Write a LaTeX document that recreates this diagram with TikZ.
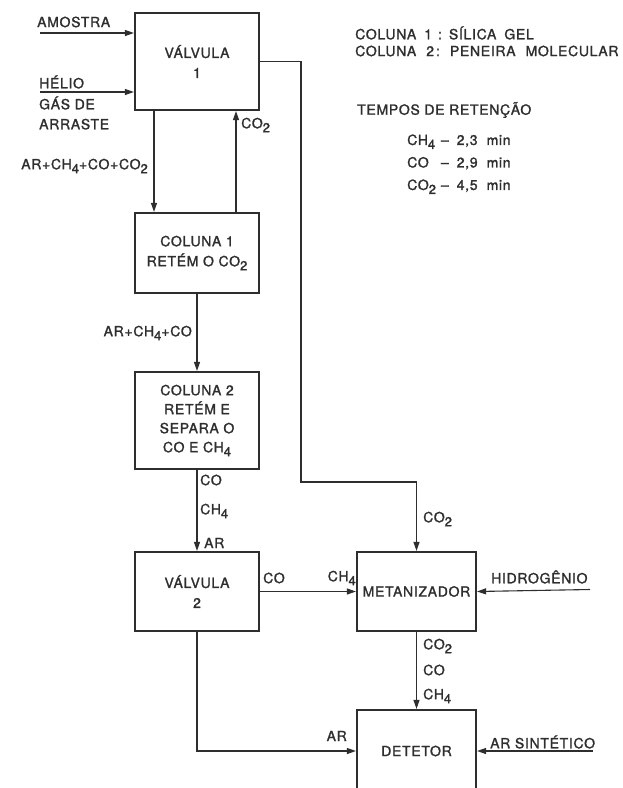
\documentclass[tikz,border=0pt]{standalone}
\usepackage{fontspec}
\setmainfont{TeX Gyre Heros}[LetterSpace=5, FakeBold=1.5]
\usetikzlibrary{arrows.meta,calc}
\definecolor{ink}{HTML}{2E2E2E}
\newcommand{\ix}[1]{\raisebox{-4pt}{\fontsize{13}{13}\selectfont #1}}

\begin{document}
\begin{tikzpicture}[x=1pt, y=-1pt, >={Triangle[length=9pt,width=6pt]},
		font=\fontsize{14}{20}\selectfont, color=ink,
		box/.style={draw, line width=2.2pt, align=center, inner sep=0pt},
		flow/.style={->, line width=1.1pt},
		lbl/.style={inner sep=1pt}]
		\useasboundingbox (0,0) rectangle (623,788);
		\clip (0,0) rectangle (623,788);
		% processing blocks
		\node[box, minimum width=124pt, minimum height=97pt] (v1) at (197,61.5) {VÁLVULA\\1};
		\node[box, minimum width=124pt, minimum height=80pt] (c1) at (197,253) {COLUNA 1\\RETÉM O CO\ix2};
		\node[box, minimum width=124pt, minimum height=97pt, font=\fontsize{14}{19}\selectfont] (c2) at (197,420.5) {COLUNA 2\\RETÉM E\\SEPARA O\\CO E CH\ix4};
		\node[box, minimum width=124pt, minimum height=79pt] (v2) at (197,591.5) {VÁLVULA\\2};
		\node[box, minimum width=119pt, minimum height=79pt] (met) at (416.5,591.5) {METANIZADOR};
		\node[box, minimum width=119pt, minimum height=82pt] (det) at (416.5,751) {DETETOR};
		% free ends of the inlets
		\coordinate (amo) at (40,33);
		\coordinate (hel) at (40,92);
		\coordinate (h2) at (590,589.5);
		\coordinate (ars) at (593,751);
		\coordinate (turn) at (301,482);
		% inlets
		\draw[flow] (amo) -- (amo -| v1.west);
		\draw[flow] (hel) -- (hel -| v1.west);
		\draw[flow] (h2) -- (met.east);
		\draw[flow] (ars) -- (det.east);
		% column loop
		\draw[flow] ([xshift=-43pt]v1.south) -- ([xshift=-43pt]c1.north);
		\draw[flow] ([xshift=39pt]c1.north) -- ([xshift=39pt]v1.south);
		\draw[flow] (v1.east) -| (turn) -| (met.north);
		\draw[flow] (c1.south) -- (c2.north);
		\draw[flow] (c2.south) -- (v2.north);
		% to the detector
		\draw[flow] (v2.east) -- (met.west);
		\draw[flow] (v2.south) |- (det.west);
		\draw[flow] (met.south) -- (det.north);
		% stream labels
		\node[lbl, anchor=west] (lamo) at (36,22) {AMOSTRA};
		\node[lbl, anchor=west] (lhel) at (38,82) {HÉLIO};
		\node[lbl, anchor=west, align=left] (lgas) at (38,113) {GÁS DE\\ARRASTE};
		\node[lbl, anchor=east] (lmix) at (149,166) {AR+CH\ix4+CO+CO\ix2};
		\node[lbl, anchor=west] (lco2a) at (240,125) {CO\ix2};
		\node[lbl, anchor=east] (lmix2) at (193,333) {AR+CH\ix4+CO};
		\node[lbl, anchor=west] (lco) at (199,480) {CO};
		\node[lbl, anchor=west] (lch4) at (199,511) {CH\ix4};
		\node[lbl, anchor=west] (lar) at (203,543) {AR};
		\node[lbl, anchor=west] (lco2b) at (422,519) {CO\ix2};
		\node[lbl, anchor=west] (lcob) at (262,578) {CO};
		\node[lbl, anchor=east] (lch4b) at (357,578) {CH\ix4};
		\node[lbl, anchor=west] (lhid) at (490,577) {HIDROGÊNIO};
		\node[lbl, anchor=west] (lco2c) at (422,646) {CO\ix2};
		\node[lbl, anchor=west] (lcoc) at (422,670) {CO};
		\node[lbl, anchor=west] (lch4c) at (422,696) {CH\ix4};
		\node[lbl, anchor=east] (larb) at (348,736) {AR};
		\node[lbl, anchor=west] (lars) at (489,742) {AR SINTÉTICO};
		% legend
		\node[lbl, anchor=west] (leg1) at (354,33) {COLUNA\hspace{8pt}1\hspace{6pt}:\hspace{7pt}SÍLICA\hspace{8pt}GEL};
		\node[lbl, anchor=west] (leg2) at (354,51) {COLUNA\hspace{10pt}2\hspace{2pt}:\hspace{10pt}PENEIRA\hspace{10pt}MOLECULAR};
		\node[lbl, anchor=west] (ret) at (356,110) {TEMPOS DE RETENÇÃO};
		\node[lbl, anchor=north west, font=\fontsize{14}{22.5}\selectfont] (tab) at (406,128) {%
			\begin{tabular}{@{}l@{\hspace{5pt}–\hspace{8pt}}l@{\hspace{9pt}}l@{}}
				CH\ix4 & 2,3 & min\\
				CO & 2,9 & min\\
				CO\ix2 & 4,5 & min
			\end{tabular}};
	\end{tikzpicture}
\end{document}
